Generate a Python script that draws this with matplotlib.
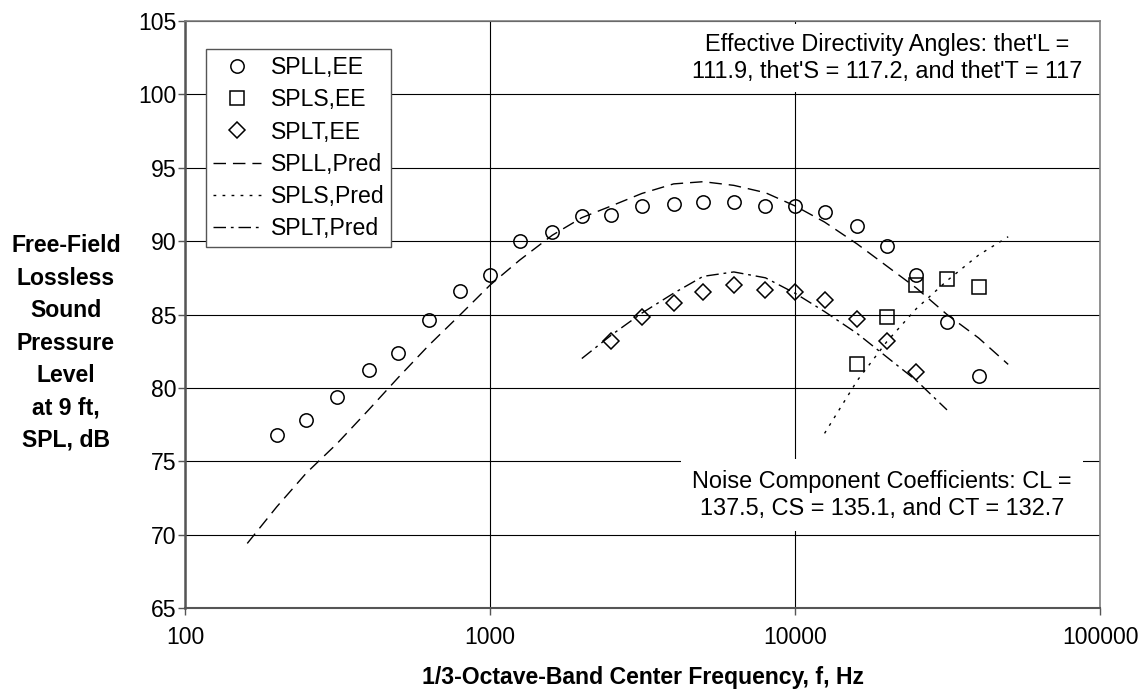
import matplotlib
matplotlib.use("Agg")
import matplotlib.pyplot as plt
from matplotlib.ticker import FixedLocator, NullLocator, FuncFormatter

plt.rcParams['font.family'] = ['Liberation Sans', 'DejaVu Sans']

# measured (EE) data
f_L_ee = [200, 250, 315, 400, 500, 630, 800, 1000, 1250, 1600, 2000, 2500,
          3150, 4000, 5000, 6300, 8000, 10000, 12500, 16000, 20000, 25000, 31500, 40000]
spl_L_ee = [76.8, 77.8, 79.4, 81.2, 82.4, 84.6, 86.6, 87.7, 90.0, 90.6, 91.7, 91.8,
            92.4, 92.5, 92.7, 92.7, 92.4, 92.4, 92.0, 91.0, 89.7, 87.7, 84.5, 80.8]

f_S_ee = [16000, 20000, 25000, 31500, 40000]
spl_S_ee = [81.6, 84.8, 87.0, 87.4, 86.9]

f_T_ee = [2500, 3150, 4000, 5000, 6300, 8000, 10000, 12500, 16000, 20000, 25000]
spl_T_ee = [83.2, 84.8, 85.8, 86.5, 87.0, 86.7, 86.5, 86.0, 84.7, 83.2, 81.1]

# predicted
f_L_pred = [160, 200, 250, 315, 400, 500, 630, 800, 1000, 1250, 1600, 2000, 2500,
            3150, 4000, 5000, 6300, 8000, 10000, 12500, 16000, 20000, 25000, 31500,
            40000, 50000]
spl_L_pred = [69.4, 71.9, 74.2, 76.2, 78.5, 80.7, 82.9, 85.0, 87.0, 88.7, 90.4, 91.6, 92.4,
              93.25, 93.9, 94.05, 93.8, 93.3, 92.4, 91.3, 89.8, 88.3, 86.8, 85.0,
              83.4, 81.6]

f_S_pred = [12500, 16000, 20000, 25000, 31500, 40000, 50000]
spl_S_pred = [76.9, 80.5, 83.15, 85.4, 87.3, 89.05, 90.3]

f_T_pred = [2000, 2500, 3150, 4000, 5000, 6300, 8000, 10000, 12500, 16000, 20000,
            25000, 31500]
spl_T_pred = [82.0, 83.6, 85.1, 86.45, 87.6, 87.9, 87.5, 86.45, 85.2, 83.7, 82.1,
              80.5, 78.5]

x_ticks = [100, 1000, 10000, 100000]
y_ticks = [65, 70, 75, 80, 85, 90, 95, 100, 105]

fs = 16.6

fig = plt.figure(figsize=(11.44, 6.96), dpi=100)
ax = fig.add_axes([185/1144, 88/696, 915/1144, 587/696])
ax.set_xscale('log')
ax.set_xlim(100, 100000)
ax.set_ylim(65, 105)

ax.plot(f_L_ee, spl_L_ee, ls='none', marker='o', ms=9.6, mfc='none', mec='black',
        mew=1.1, label='SPLL,EE', zorder=4)
ax.plot(f_S_ee, spl_S_ee, ls='none', marker='s', ms=10, mfc='none', mec='black',
        mew=1.1, label='SPLS,EE', zorder=4)
ax.plot(f_T_ee, spl_T_ee, ls='none', marker='D', ms=8.1, mfc='none', mec='black',
        mew=1.1, label='SPLT,EE', zorder=4)
ax.plot(f_L_pred, spl_L_pred, color='black', lw=1.0, dashes=(9, 5), label='SPLL,Pred', zorder=3)
ax.plot(f_S_pred, spl_S_pred, color='black', lw=1.0, dashes=(2, 4.5), label='SPLS,Pred', zorder=3)
ax.plot(f_T_pred, spl_T_pred, color='black', lw=1.0, dashes=(9, 3.5, 2, 3.5), label='SPLT,Pred', zorder=3)

ax.xaxis.set_major_locator(FixedLocator(x_ticks))
ax.xaxis.set_minor_locator(NullLocator())
ax.xaxis.set_major_formatter(FuncFormatter(lambda v, p: '%d' % v))
ax.set_yticks(y_ticks)
ax.grid(True, color='black', lw=0.8)
ax.set_axisbelow(True)

ax.tick_params(axis='both', direction='out', length=5, width=1, color='#555555',
               labelsize=fs)
ax.tick_params(axis='x', pad=8)
ax.tick_params(axis='y', pad=1)

for s in ['top', 'right']:
    ax.spines[s].set_color('#808080')
    ax.spines[s].set_linewidth(1.2)
ax.spines['left'].set_color('#555555')
ax.spines['left'].set_linewidth(1.8)
ax.spines['bottom'].set_color('#555555')
ax.spines['bottom'].set_linewidth(1.5)

ax.set_xlabel('1/3-Octave-Band Center Frequency, f, Hz', fontsize=fs,
              fontweight='bold', labelpad=12)
fig.text(66/1144, 1 - 343/696, 'Free-Field\nLossless\nSound\nPressure\nLevel\nat 9 ft,\nSPL, dB',
         ha='center', va='center', multialignment='center', fontsize=fs,
         fontweight='bold', linespacing=1.52)

leg = ax.legend(loc='upper left', bbox_to_anchor=(0.023, 0.952), borderaxespad=0,
                fontsize=fs, numpoints=1, handlelength=2.1, handletextpad=0.4,
                labelspacing=0.4, borderpad=0.3, fancybox=False, framealpha=1)
leg.get_frame().set_edgecolor('#555555')
leg.get_frame().set_linewidth(1.0)
leg.set_zorder(6)

ax.text(0.767, 0.937, "Effective Directivity Angles: thet'L =\n111.9, thet'S = 117.2, and thet'T = 117",
        transform=ax.transAxes, ha='center', va='center', multialignment='center',
        fontsize=16.9, bbox=dict(fc='white', ec='none', pad=7), zorder=5)
ax.text(0.762, 0.1925, "Noise Component Coefficients: CL =\n137.5, CS = 135.1, and CT = 132.7",
        transform=ax.transAxes, ha='center', va='center', multialignment='center',
        fontsize=16.9, bbox=dict(fc='white', ec='none', pad=8), zorder=5)

fig.savefig('out.png', dpi=100)
